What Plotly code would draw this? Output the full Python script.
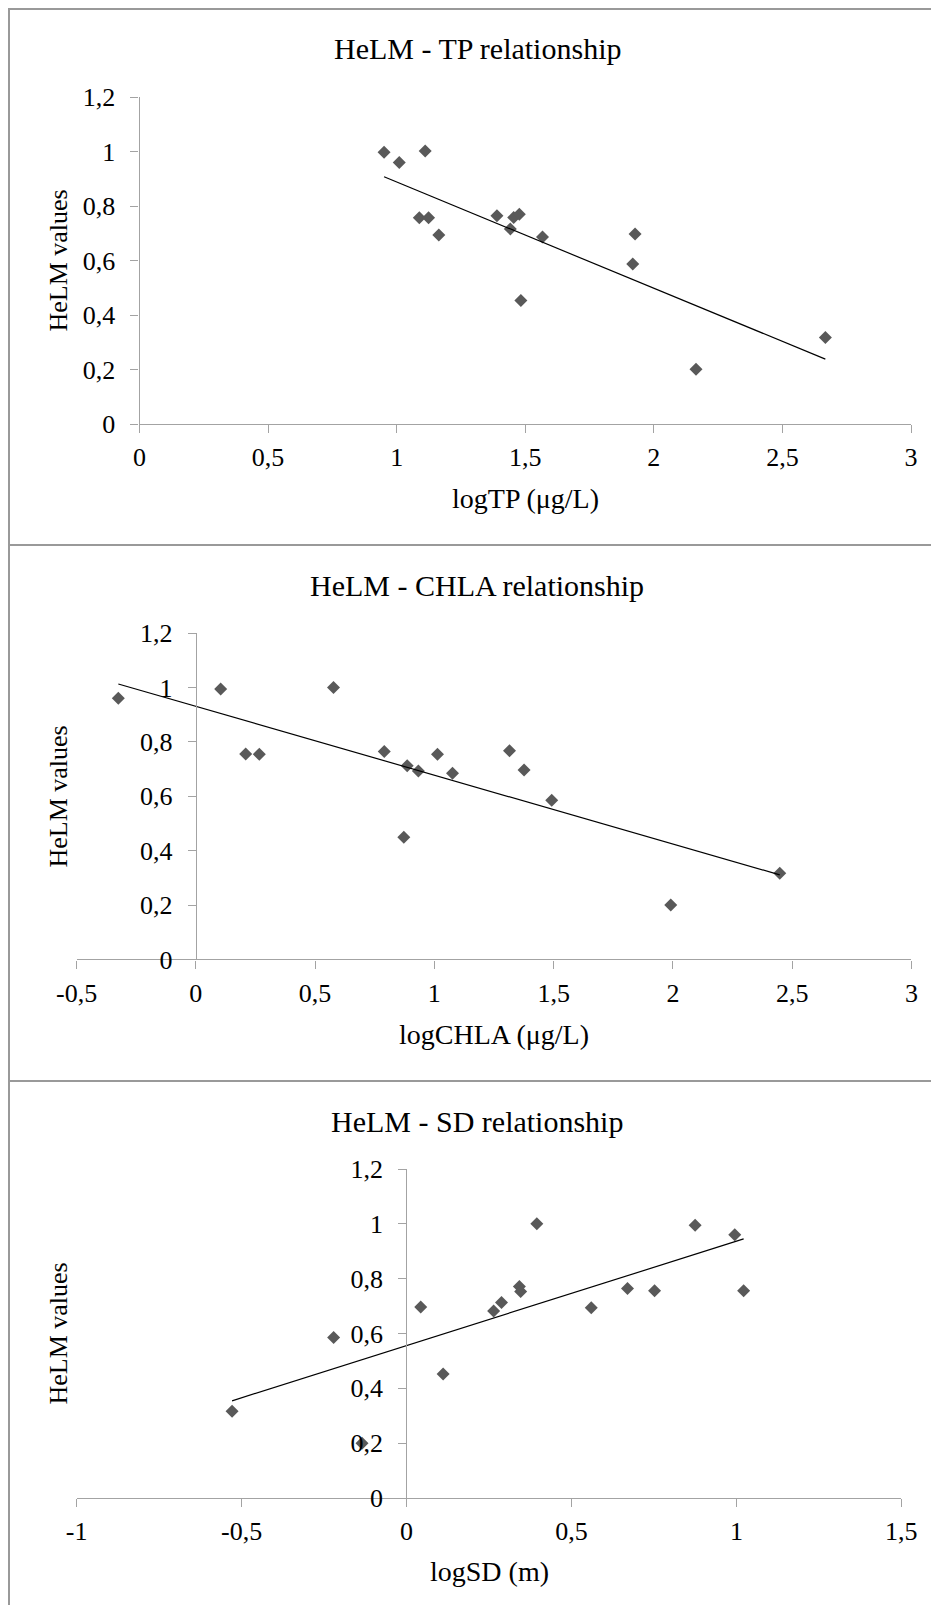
import numpy as np
import plotly.graph_objects as go

# ---------------- data ----------------
tp_x = [0.951, 1.010, 1.111, 1.088, 1.124, 1.164, 1.390, 1.442, 1.455, 1.477, 1.483, 1.567, 1.927, 1.918, 2.164, 2.667]
tp_y = [0.997, 0.960, 1.002, 0.757, 0.757, 0.694, 0.764, 0.716, 0.758, 0.770, 0.453, 0.686, 0.697, 0.587, 0.201, 0.317]

chla_x = [-0.325, 0.104, 0.209, 0.266, 0.577, 0.790, 0.886, 0.872, 0.933, 1.013, 1.076, 1.315, 1.376, 1.492, 1.991, 2.448]
chla_y = [0.960, 0.994, 0.755, 0.754, 1.000, 0.764, 0.712, 0.449, 0.693, 0.754, 0.684, 0.767, 0.696, 0.585, 0.200, 0.317]

sd_x = [-0.529, -0.221, -0.135, 0.043, 0.111, 0.264, 0.288, 0.342, 0.346, 0.395, 0.560, 0.670, 0.752, 0.875, 0.995, 1.022]
sd_y = [0.316, 0.585, 0.200, 0.697, 0.452, 0.682, 0.713, 0.771, 0.753, 1.000, 0.694, 0.764, 0.756, 0.995, 0.960, 0.756]

helm_ticks = [0, 0.2, 0.4, 0.6, 0.8, 1, 1.2]
helm_labels = ["0", "0,2", "0,4", "0,6", "0,8", "1", "1,2"]
tp_ticks = [0, 0.5, 1, 1.5, 2, 2.5, 3]
tp_labels = ["0", "0,5", "1", "1,5", "2", "2,5", "3"]
chla_ticks = [-0.5, 0, 0.5, 1, 1.5, 2, 2.5, 3]
chla_labels = ["-0,5", "0", "0,5", "1", "1,5", "2", "2,5", "3"]
sd_ticks = [-1, -0.5, 0, 0.5, 1, 1.5]
sd_labels = ["-1", "-0,5", "0", "0,5", "1", "1,5"]

titles = ["HeLM - TP relationship", "HeLM - CHLA relationship", "HeLM - SD relationship"]
x_titles = ["logTP (μg/L)", "logCHLA (μg/L)", "logSD (m)"]
y_title = "HeLM values"

# ---------------- layout helpers (page pixel -> paper) ----------------
W, H, OFF = 923, 1597, 8


def fx(px):
    return (px - OFF) / W


def fy(py):
    return 1 - (py - OFF) / H


FONT = "Liberation Serif"
AXIS_COLOR = "#a3a3a3"
MARK = "#595959"

panels = [
    dict(x=tp_x, y=tp_y, xr=[0, 3], xt=tp_ticks, xl=tp_labels,
         left=139.5, right=911.0, top=97.0, bottom=424.0, yaxpos=None,
         title_xy=(477, 48), xt_xy=(525, 499), yt_xy=(58, 260.5)),
    dict(x=chla_x, y=chla_y, xr=[-0.5, 3], xt=chla_ticks, xl=chla_labels,
         left=76.6, right=911.4, top=633.0, bottom=959.4, yaxpos=195.8,
         title_xy=(477.5, 585), xt_xy=(494, 1034), yt_xy=(58, 796.5)),
    dict(x=sd_x, y=sd_y, xr=[-1, 1.5], xt=sd_ticks, xl=sd_labels,
         left=76.7, right=901.3, top=1169.0, bottom=1498.0, yaxpos=406.3,
         title_xy=(477, 1121), xt_xy=(489, 1571), yt_xy=(58, 1333.5)),
]

fig = go.Figure()
annotations = []
layout_axes = {}

for i, p in enumerate(panels, start=1):
    xa = "x" if i == 1 else f"x{i}"
    ya = "y" if i == 1 else f"y{i}"
    fig.add_trace(go.Scatter(
        x=p["x"], y=p["y"], mode="markers", xaxis=xa, yaxis=ya,
        marker=dict(symbol="diamond", size=10, color=MARK, line=dict(width=0)),
        showlegend=False, hoverinfo="x+y", cliponaxis=False))
    slope, intercept = np.polyfit(p["x"], p["y"], 1)
    xs = [min(p["x"]), max(p["x"])]
    ys = [slope * v + intercept for v in xs]
    fig.add_trace(go.Scatter(
        x=xs, y=ys, mode="lines", xaxis=xa, yaxis=ya,
        line=dict(color="black", width=1.2), showlegend=False, hoverinfo="skip"))

    xkey = "xaxis" if i == 1 else f"xaxis{i}"
    ykey = "yaxis" if i == 1 else f"yaxis{i}"
    layout_axes[xkey] = dict(
        domain=[fx(p["left"]), fx(p["right"])], range=p["xr"], anchor=ya,
        tickmode="array", tickvals=p["xt"], ticktext=p["xl"], automargin=False,
        showgrid=False, zeroline=False, showline=True, linecolor=AXIS_COLOR, linewidth=1.3,
        ticks="outside", ticklen=8, tickcolor=AXIS_COLOR, tickwidth=1.3,
        ticklabelstandoff=2,
        tickfont=dict(family=FONT, size=26, color="black"), fixedrange=True)
    ydict = dict(
        domain=[fy(p["bottom"]), fy(p["top"])], range=[0, 1.2], automargin=False,
        tickmode="array", tickvals=helm_ticks, ticktext=helm_labels,
        showgrid=False, zeroline=False, showline=True, linecolor=AXIS_COLOR, linewidth=1.3,
        ticks="outside", ticklen=8, tickcolor=AXIS_COLOR, tickwidth=1.3,
        ticklabelstandoff=10,
        tickfont=dict(family=FONT, size=26, color="black"), fixedrange=True)
    if p["yaxpos"] is None:
        ydict["anchor"] = xa
    else:
        ydict["anchor"] = "free"
        ydict["position"] = fx(p["yaxpos"])
    layout_axes[ykey] = ydict

    tx, ty = p["title_xy"]
    annotations.append(dict(text=titles[i - 1], x=fx(tx), y=fy(ty), xref="paper", yref="paper",
                            showarrow=False, xanchor="center", yanchor="middle",
                            font=dict(family=FONT, size=30, color="black")))
    ax_, ay_ = p["xt_xy"]
    annotations.append(dict(text=x_titles[i - 1], x=fx(ax_), y=fy(ay_), xref="paper", yref="paper",
                            showarrow=False, xanchor="center", yanchor="middle",
                            font=dict(family=FONT, size=28, color="black")))
    bx, by = p["yt_xy"]
    annotations.append(dict(text=y_title, x=fx(bx), y=fy(by), xref="paper", yref="paper",
                            showarrow=False, xanchor="center", yanchor="middle", textangle=-90,
                            font=dict(family=FONT, size=26, color="black")))

BORDER = "#999999"
shapes = [
    dict(type="line", xref="paper", yref="paper", x0=fx(9), x1=fx(9), y0=fy(8), y1=fy(1613),
         line=dict(color=BORDER, width=2)),
]
for yy in (9, 545, 1081):
    shapes.append(dict(type="line", xref="paper", yref="paper", x0=fx(8), x1=fx(939), y0=fy(yy), y1=fy(yy),
                       line=dict(color=BORDER, width=2)))

fig.update_layout(
    template="none",
    width=W, height=H, margin=dict(l=0, r=0, t=0, b=0, pad=0), autosize=False,
    paper_bgcolor="white", plot_bgcolor="white",
    font=dict(family=FONT, color="black"),
    annotations=annotations, shapes=shapes, showlegend=False,
    **layout_axes)

fig.write_html("out.html")
